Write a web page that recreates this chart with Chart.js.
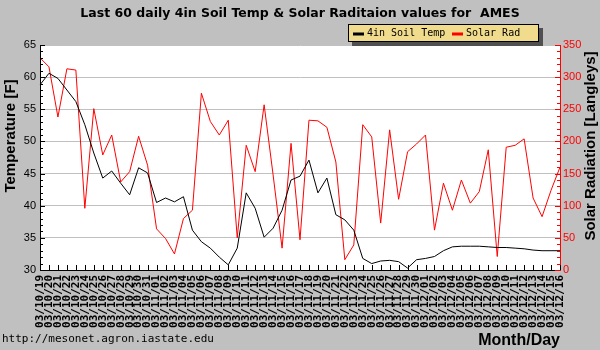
<!DOCTYPE html>
<html>
<head>
<meta charset="utf-8">
<script src="https://cdn.jsdelivr.net/npm/chart.js@4.4.1/dist/chart.umd.min.js"></script>
<style>
html,body{margin:0;padding:0;background:#c0c0c0;}
#wrap{width:600px;height:350px;position:relative;}
canvas{display:block;}
</style>
</head>
<body>
<div id="wrap"><canvas id="c" width="600" height="350"></canvas></div>
<script>
const chartTitle = "Last 60 daily 4in Soil Temp & Solar Raditaion values for  AMES";
const leftTitle = "Temperature [F]";
const rightTitle = "Solar Radiation [Langleys]";
const dates = [
 "03/10/19","03/10/20","03/10/21","03/10/22","03/10/23","03/10/24","03/10/25","03/10/26","03/10/27","03/10/28",
 "03/10/29","03/10/30","03/10/31","03/11/01","03/11/02","03/11/03","03/11/04","03/11/05","03/11/06","03/11/07",
 "03/11/08","03/11/09","03/11/10","03/11/11","03/11/12","03/11/13","03/11/14","03/11/15","03/11/16","03/11/17",
 "03/11/18","03/11/19","03/11/20","03/11/21","03/11/22","03/11/23","03/11/24","03/11/25","03/11/26","03/11/27",
 "03/11/28","03/11/29","03/11/30","03/12/01","03/12/02","03/12/03","03/12/04","03/12/05","03/12/06","03/12/07",
 "03/12/08","03/12/09","03/12/10","03/12/11","03/12/12","03/12/13","03/12/14","03/12/15","03/12/16"
];
const soilTemp = [
 58.8,60.6,59.8,58.0,56.2,52.6,48.2,44.3,45.4,43.5,
 41.7,45.9,45.1,40.5,41.2,40.6,41.4,36.2,34.4,33.4,
 32.0,30.8,33.4,42.0,39.6,35.1,36.5,39.3,44.0,44.6,
 47.1,42.0,44.3,38.6,37.8,36.2,31.8,31.0,31.4,31.5,
 31.3,30.3,31.6,31.8,32.1,33.0,33.6,33.7,33.7,33.7,
 33.6,33.5,33.5,33.4,33.3,33.1,33.0,33.0,33.0
];
const solarRad = [
 330,316,238,313,311,96,251,179,210,137,
 153,208,163,64,49,25,80,93,275,231,
 210,233,50,194,153,257,148,34,197,47,
 233,232,222,168,16,39,226,207,73,218,
 110,184,196,210,62,135,93,140,104,122,
 187,21,191,194,204,112,83,124,160
];
const tempTicks = {min:30, max:65, step:5};
const radTicks = {min:0, max:350, step:50};

const decor = {
  id:'decor',
  beforeDraw(chart){
    const c = chart.ctx, a = chart.chartArea;
    c.save();
    c.fillStyle = '#c0c0c0';
    c.fillRect(0,0,chart.width,chart.height);
    c.fillStyle = '#ffffff';
    c.fillRect(a.left,a.top,a.right-a.left,a.bottom-a.top);
    c.restore();
  },
  afterDraw(chart){
    const c = chart.ctx, a = chart.chartArea;
    const x = chart.scales.x, y = chart.scales.y, y1 = chart.scales.y1;
    c.save();
    c.lineWidth = 1;
    c.strokeStyle = '#000';
    c.beginPath();
    for (let v = tempTicks.min; v <= tempTicks.max; v++) {
      const py = Math.round(y.getPixelForValue(v)) + 0.5;
      const len = (v % 5 === 0) ? 5 : 3;
      c.moveTo(a.left, py); c.lineTo(a.left + len, py);
    }
    c.stroke();
    c.strokeStyle = '#ff0000';
    c.beginPath();
    for (let v = radTicks.min; v <= radTicks.max; v += 10) {
      const py = Math.round(y1.getPixelForValue(v)) + 0.5;
      const len = (v % 50 === 0) ? 5 : 3;
      c.moveTo(a.right, py); c.lineTo(a.right - len, py);
    }
    c.stroke();
    c.strokeStyle = '#000';
    c.beginPath();
    for (let i = 0; i < dates.length; i++) {
      const px = Math.round(x.getPixelForValue(i)) + 0.5;
      c.moveTo(px, a.bottom); c.lineTo(px, a.bottom - 5);
    }
    c.stroke();
    // axis titles
    c.fillStyle = '#000';
    c.font = 'bold 15px "Liberation Sans"';
    c.textAlign = 'center';
    c.textBaseline = 'middle';
    c.save(); c.translate(11, 136); c.rotate(-Math.PI/2); c.fillText(leftTitle, 0, 0); c.restore();
    c.save(); c.translate(591, 146); c.rotate(-Math.PI/2); c.fillText(rightTitle, 0, 0); c.restore();
    // legend box
    const lx = 348, ly = 24, lw = 191, lh = 18;
    c.fillStyle = '#505050';
    c.fillRect(lx + 4, ly + 4, lw, lh);
    c.fillStyle = '#f0dc8c';
    c.fillRect(lx, ly, lw, lh);
    c.lineWidth = 1;
    c.strokeStyle = '#000';
    c.strokeRect(lx + 0.5, ly + 0.5, lw - 1, lh - 1);
    c.lineWidth = 3;
    c.beginPath(); c.moveTo(lx + 5, ly + 10); c.lineTo(lx + 16, ly + 10); c.stroke();
    c.strokeStyle = '#ff0000';
    c.beginPath(); c.moveTo(lx + 104, ly + 10); c.lineTo(lx + 115, ly + 10); c.stroke();
    c.fillStyle = '#000';
    c.font = '10px "DejaVu Sans Mono"';
    c.textBaseline = 'middle';
    c.textAlign = 'left';
    c.fillText(chart.data.datasets[0].label, lx + 19, ly + 9.5);
    c.fillText(chart.data.datasets[1].label, lx + 118, ly + 9.5);
    c.font = '11px "DejaVu Sans Mono"';
    c.fillText('http://mesonet.agron.iastate.edu', 2, 339);
    c.restore();
  }
};

new Chart(document.getElementById('c'), {
  type: 'line',
  data: {
    labels: dates,
    datasets: [
      {label:'4in Soil Temp', data: soilTemp, borderColor:'#000000', backgroundColor:'#000000', borderWidth:1, pointRadius:0, tension:0, yAxisID:'y'},
      {label:'Solar Rad', data: solarRad, borderColor:'#ff0000', backgroundColor:'#ff0000', borderWidth:1, pointRadius:0, tension:0, yAxisID:'y1'}
    ]
  },
  options: {
    responsive:false, animation:false, devicePixelRatio:1,
    layout:{padding:0},
    plugins:{
      legend:{display:false},
      tooltip:{enabled:false},
      title:{display:true, text:chartTitle, color:'#000',
        font:{family:'"DejaVu Sans"', size:12.5, weight:'bold', lineHeight:1.2},
        padding:{top:6, bottom:24}}
    },
    scales:{
      x:{
        offset:false,
        grid:{display:false, drawTicks:false},
        border:{display:true, color:'#000'},
        ticks:{autoSkip:false, maxRotation:90, minRotation:90, padding:5, color:'#000',
          font:{family:'"DejaVu Sans Mono"', size:11, weight:'bold'}},
        title:{display:true, text:'Month/Day', align:'end', color:'#000',
          font:{family:'"Liberation Sans"', size:16, weight:'bold', lineHeight:1.2}, padding:{top:0,bottom:0}},
        afterFit(s){ s.height = 80; }
      },
      y:{
        position:'left', min:tempTicks.min, max:tempTicks.max,
        ticks:{stepSize:tempTicks.step, color:'#000', padding:4,
          font:{family:'"Liberation Sans"', size:11}},
        grid:{color:'#c0c0c0', drawTicks:false},
        border:{display:true, color:'#000'},
        afterFit(s){ s.width = 40; }
      },
      y1:{
        position:'right', min:radTicks.min, max:radTicks.max,
        ticks:{stepSize:radTicks.step, color:'#ff0000', padding:3,
          font:{family:'"Liberation Sans"', size:11}},
        grid:{display:false, drawTicks:false},
        border:{display:true, color:'#ff0000'},
        afterFit(s){ s.width = 40; }
      }
    }
  },
  plugins:[decor]
});
</script>
</body>
</html>
